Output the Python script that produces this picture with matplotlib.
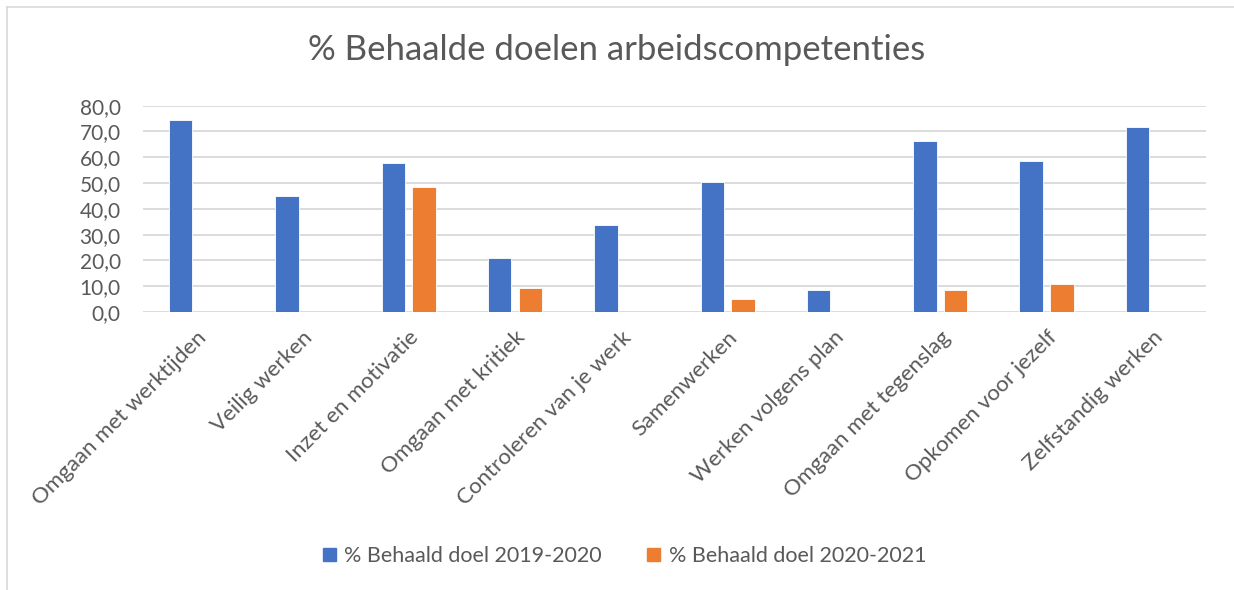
import matplotlib
matplotlib.use("Agg")
import matplotlib.pyplot as plt
import numpy as np
from matplotlib.patches import Patch
from matplotlib.lines import Line2D

categories = ["Omgaan met werktijden", "Veilig werken", "Inzet en motivatie",
              "Omgaan met kritiek", "Controleren van je werk", "Samenwerken",
              "Werken volgens plan", "Omgaan met tegenslag", "Opkomen voor jezelf",
              "Zelfstandig werken"]
series_2019 = [74.4, 45.0, 57.6, 21.1, 33.7, 50.4, 8.4, 66.4, 58.4, 71.8]
series_2020 = [0, 0, 48.6, 9.2, 0, 5.2, 0, 8.4, 10.7, 0]
labels = ["% Behaald doel 2019-2020", "% Behaald doel 2020-2021"]
title = "% Behaalde doelen arbeidscompetenties"
yticks = [0, 10, 20, 30, 40, 50, 60, 70, 80]

blue = "#4472C4"
orange = "#ED7D31"
txt = "#595959"

plt.rcParams['font.family'] = ['Lato', 'DejaVu Sans']

fig = plt.figure(figsize=(12.34, 5.90), dpi=100)
ax = fig.add_axes([143/1234, 1-312/590, 1063/1234, 206.3/590])

x = np.arange(len(categories))
w = 0.22
off = 0.145
ax.bar(x - off, series_2019, w, color=blue, edgecolor="white", linewidth=0.6, zorder=3)
ax.bar(x + off, series_2020, w, color=orange, edgecolor="white", linewidth=0.6, zorder=3)

ax.set_xlim(-0.5, len(categories) - 0.5)
ax.set_ylim(0, 80)
ax.set_yticks(yticks)
ax.set_yticklabels([f"{v:.1f}".replace(".", ",") for v in yticks], fontsize=15, color=txt)
ax.yaxis.grid(True, color="#d9d9d9", linewidth=1.3, zorder=0)
ax.set_axisbelow(True)
for s in ax.spines.values():
    s.set_visible(False)
ax.tick_params(axis='y', length=0, pad=16)
ax.set_xticks(x)
ax.set_xticklabels(categories, rotation=45, ha='right', va='top',
                   rotation_mode='anchor', fontsize=16, color=txt)
ax.tick_params(axis='x', length=0, pad=11)

fig.text(0.5, 1-50/590, title, ha='center', va='center', fontsize=25, color=txt)

handles = [Patch(color=blue), Patch(color=orange)]
fig.legend(handles, labels, loc='center', bbox_to_anchor=(0.506, 1-556/590), ncol=2,
           frameon=False, fontsize=15.5, labelcolor=txt, handlelength=0.6,
           handleheight=0.6, handletextpad=0.4, columnspacing=2.1)

fig.add_artist(Line2D([6.5/1234, 6.5/1234], [0, 1-7/590], transform=fig.transFigure,
                      color="#d9d9d9", linewidth=1.2))
fig.add_artist(Line2D([6.5/1234, 1], [1-7/590, 1-7/590], transform=fig.transFigure,
                      color="#d9d9d9", linewidth=1.2))

fig.savefig("out.png", dpi=100, facecolor="white")
